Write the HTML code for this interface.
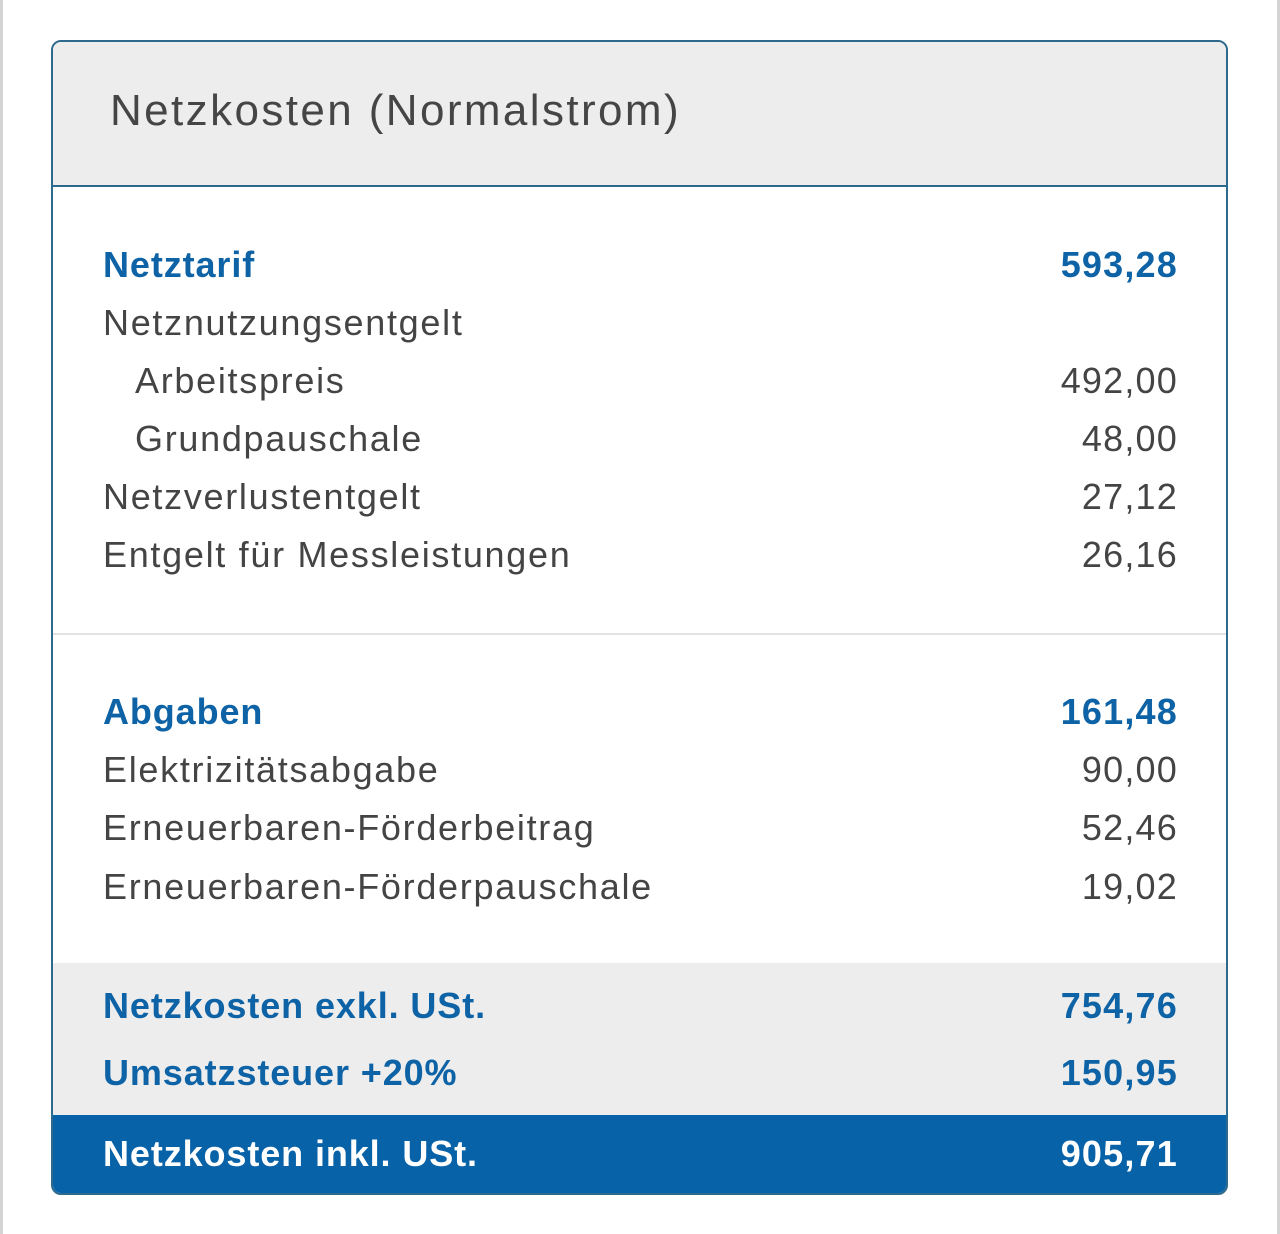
<!DOCTYPE html>
<html><head><meta charset="utf-8"><style>
body{margin:0;width:1280px;height:1234px;background:#fff;position:relative;font-family:"Liberation Sans",Arial,sans-serif;overflow:hidden}
.strip{position:absolute;top:0;width:3px;height:1234px;background:#d4d4d4}
.card{position:absolute;left:51px;top:40px;width:1173px;height:1151px;border:2px solid #2d6a8e;border-radius:10px;overflow:hidden;background:#fff}
.hdr{position:absolute;left:0;top:0;width:100%;height:143px;background:#ededed;border-bottom:2px solid #2d6a8e}
.title{position:absolute;left:57px;top:44px;font-size:44px;letter-spacing:2.4px;color:#454545}
.row{position:absolute;left:0;width:100%;height:50px;font-size:36px;line-height:50px;color:#444}
.row .l{position:absolute;left:50px;letter-spacing:1.7px}
.row .l.in{left:82px}
.row .r{position:absolute;right:48px;letter-spacing:1.2px}
.b{color:#0d63a5;font-weight:bold}
.b .l,.foot .l{letter-spacing:0.9px!important}
.sep{position:absolute;left:0;top:591px;width:100%;height:2px;background:#e2e2e2}
.gray{position:absolute;left:0;top:921px;width:100%;height:152px;background:#ededed}
.foot{position:absolute;left:0;top:1073px;width:100%;height:80px;background:#0862a8}
.foot .row{color:#fff}
</style></head><body>
<div class="strip" style="left:0"></div>
<div class="strip" style="right:0"></div>
<div class="card">
 <div class="hdr"><div class="title">Netzkosten (Normalstrom)</div></div>
 <div class="row b" style="top:198px"><span class="l">Netztarif</span><span class="r">593,28</span></div>
 <div class="row" style="top:256px"><span class="l">Netznutzungsentgelt</span></div>
 <div class="row" style="top:314px"><span class="l in">Arbeitspreis</span><span class="r">492,00</span></div>
 <div class="row" style="top:372px"><span class="l in">Grundpauschale</span><span class="r">48,00</span></div>
 <div class="row" style="top:430px"><span class="l">Netzverlustentgelt</span><span class="r">27,12</span></div>
 <div class="row" style="top:488px"><span class="l">Entgelt für Messleistungen</span><span class="r">26,16</span></div>
 <div class="sep"></div>
 <div class="row b" style="top:645px"><span class="l">Abgaben</span><span class="r">161,48</span></div>
 <div class="row" style="top:703px"><span class="l">Elektrizitätsabgabe</span><span class="r">90,00</span></div>
 <div class="row" style="top:761px"><span class="l">Erneuerbaren-Förderbeitrag</span><span class="r">52,46</span></div>
 <div class="row" style="top:820px"><span class="l">Erneuerbaren-Förderpauschale</span><span class="r">19,02</span></div>
 <div class="gray">
  <div class="row b" style="top:18px"><span class="l">Netzkosten exkl. USt.</span><span class="r">754,76</span></div>
  <div class="row b" style="top:85px"><span class="l">Umsatzsteuer +20%</span><span class="r">150,95</span></div>
 </div>
 <div class="foot">
  <div class="row" style="top:14px;font-weight:bold"><span class="l">Netzkosten inkl. USt.</span><span class="r">905,71</span></div>
 </div>
</div>
</body></html>
